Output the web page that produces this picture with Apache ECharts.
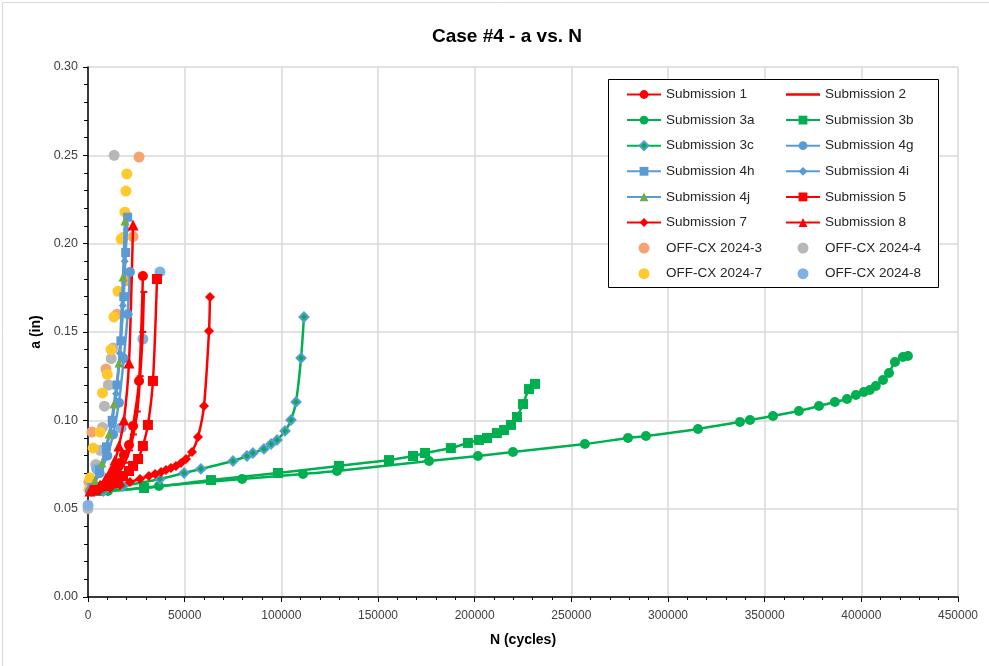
<!DOCTYPE html>
<html><head><meta charset="utf-8">
<script src="https://cdn.jsdelivr.net/npm/echarts@6/dist/echarts.min.js"></script>
<style>html,body{margin:0;padding:0;background:#fff}#c{width:989px;height:666px}</style>
</head><body><div id="c"></div>
<script>
// ---- data (N in cycles, a in inches) ----
const xTicks = [0, 50000, 100000, 150000, 200000, 250000, 300000, 350000, 400000, 450000];
const yTicks = [0.00, 0.05, 0.10, 0.15, 0.20, 0.25, 0.30];

const s1N = [2100, 6200, 10300, 12400, 14500, 16600, 18600, 21200, 23300, 26400, 28400];
const s1A = [0.060, 0.0623, 0.0651, 0.0685, 0.0719, 0.0759, 0.0804, 0.0860, 0.0968, 0.1223, 0.1817];

const s2N = [2000, 8000, 12000, 16000, 19000, 21500, 23500, 25500, 27000, 28300, 28900];
const s2A = [0.060, 0.0635, 0.0665, 0.0705, 0.0760, 0.0830, 0.0920, 0.105, 0.125, 0.150, 0.1727];

const s3aN = [5000, 10300, 36700, 79700, 111200, 128800, 176400, 201700, 219800, 257000, 279300, 288600, 315500, 337200, 342400, 354300, 367700, 378100, 386300, 392600, 397200, 401300, 404400, 407500, 411200, 414300, 417400, 421500, 424100];
const s3aA = [0.0600, 0.0600, 0.0628, 0.0668, 0.0696, 0.0713, 0.0770, 0.0798, 0.0821, 0.0866, 0.0900, 0.0911, 0.0951, 0.0991, 0.1002, 0.1025, 0.1053, 0.1081, 0.1104, 0.1121, 0.1143, 0.1160, 0.1172, 0.1194, 0.1228, 0.1268, 0.1330, 0.1358, 0.1364];

const s3bN = [5000, 29000, 63600, 98300, 129800, 155700, 168100, 174300, 187700, 196500, 202200, 206400, 211500, 215200, 218800, 221900, 225000, 228100, 231200];
const s3bA = [0.0600, 0.0617, 0.0662, 0.0702, 0.0742, 0.0775, 0.0798, 0.0815, 0.0843, 0.0872, 0.0889, 0.0900, 0.0928, 0.0945, 0.0974, 0.1019, 0.1092, 0.1177, 0.1206];

const s3cN = [8000, 18100, 37200, 49700, 58400, 75000, 82200, 85300, 91000, 94700, 97800, 101900, 105000, 107600, 110200, 111700];
const s3cA = [0.0600, 0.0628, 0.0668, 0.0702, 0.0725, 0.0770, 0.0798, 0.0815, 0.0838, 0.0866, 0.0889, 0.0940, 0.1002, 0.1104, 0.1353, 0.1585];

const s4gN = [1000, 6000, 10000, 13000, 16000, 18500, 20500, 21700];
const s4gA = [0.060, 0.070, 0.080, 0.092, 0.110, 0.135, 0.160, 0.184];

const s4hN = [2000, 6000, 9500, 12500, 15000, 17000, 18500, 19500, 20500];
const s4hA = [0.062, 0.072, 0.085, 0.100, 0.120, 0.145, 0.170, 0.195, 0.215];

const s4iN = [1500, 5500, 9000, 12000, 14500, 16500, 18000, 19000, 20000];
const s4iA = [0.060, 0.070, 0.082, 0.097, 0.115, 0.138, 0.165, 0.190, 0.208];

const s4jN = [3600, 7200, 10900, 13400, 16000, 18100, 19100];
const s4jA = [0.066, 0.0759, 0.0923, 0.1092, 0.1325, 0.1811, 0.2128];

const s5N = [3600, 8800, 12900, 15500, 18100, 21200, 23300, 25900, 28400, 31000, 33600, 35700];
const s5A = [0.0606, 0.0628, 0.0645, 0.0662, 0.0685, 0.0713, 0.0742, 0.0781, 0.0855, 0.0974, 0.1223, 0.1800];

const s7N = [6200, 11400, 16600, 21700, 26900, 31500, 34700, 37800, 40300, 42900, 45500, 48100, 50700, 53800, 56900, 60000, 62600, 63100];
const s7A = [0.0606, 0.0617, 0.0634, 0.0651, 0.0668, 0.0685, 0.0696, 0.0708, 0.0719, 0.0730, 0.0742, 0.0759, 0.0781, 0.0821, 0.0906, 0.1081, 0.1506, 0.1698];

const s8N = [1000, 6200, 9300, 11900, 14000, 16000, 18600, 21200, 23300];
const s8A = [0.0600, 0.0634, 0.0674, 0.0719, 0.0775, 0.0855, 0.1002, 0.1325, 0.2106];

const off3N = [500, 2000, 9300, 15000, 19600, 23300, 26400];
const off3A = [0.065, 0.0934, 0.129, 0.160, 0.179, 0.204, 0.249];

const off4N = [0, 1500, 4000, 6500, 7500, 8500, 10500, 12000, 13000, 13500];
const off4A = [0.050, 0.062, 0.075, 0.083, 0.096, 0.108, 0.120, 0.135, 0.141, 0.250];

const off7N = [500, 1000, 2700, 6200, 7500, 10000, 11900, 13400, 15500, 17100, 18600, 19100, 19600, 20100];
const off7A = [0.0606, 0.0674, 0.0843, 0.0934, 0.1155, 0.126, 0.140, 0.1585, 0.173, 0.2026, 0.2038, 0.2178, 0.2298, 0.2395];

const off8N = [0, 2000, 4500, 17100, 28400, 37200];
const off8A = [0.052, 0.060, 0.0725, 0.0957, 0.146, 0.184];

// ---- build ----
const zip = (N, A) => N.map((n, i) => [n, A[i]]);
const RED = '#FF0000', GREEN = '#00B050', BLUE = '#5B9BD5';
function line(name, N, A, color, symbol, size, extra) {
  return Object.assign({
    name, type: 'line', data: zip(N, A), smooth: 0.25,
    symbol, symbolSize: size,
    lineStyle: { color, width: 2.5 },
    itemStyle: { color, borderWidth: 0 },
    emphasis: { disabled: true }
  }, extra || {});
}
function pts(name, N, A, color) {
  return { name, type: 'scatter', data: zip(N, A), symbol: 'circle', symbolSize: 11,
    itemStyle: { color, opacity: 1 }, emphasis: { disabled: true } };
}

const series = [
  line('Submission 1', s1N, s1A, RED, 'circle', 10),
  line('Submission 2', s2N, s2A, RED, 'rect', [7, 2]),
  line('Submission 3a', s3aN, s3aA, GREEN, 'circle', 10),
  line('Submission 3b', s3bN, s3bA, GREEN, 'rect', 10),
  line('Submission 3c', s3cN, s3cA, GREEN, 'diamond', 9, { itemStyle: { color: GREEN, borderColor: BLUE, borderWidth: 2 } }),
  line('Submission 4g', s4gN, s4gA, BLUE, 'circle', 10),
  line('Submission 4h', s4hN, s4hA, BLUE, 'rect', 9),
  line('Submission 4i', s4iN, s4iA, BLUE, 'diamond', 8),
  line('Submission 4j', s4jN, s4jA, BLUE, 'triangle', 9, { itemStyle: { color: '#70AD47', borderWidth: 0 } }),
  line('Submission 5', s5N, s5A, RED, 'rect', 10),
  line('Submission 7', s7N, s7A, RED, 'diamond', 10),
  line('Submission 8', s8N, s8A, RED, 'triangle', 11),
  pts('OFF-CX 2024-3', off3N, off3A, '#F4A46C'),
  pts('OFF-CX 2024-4', off4N, off4A, '#B7B7B7'),
  pts('OFF-CX 2024-7', off7N, off7A, '#FFC92E'),
  pts('OFF-CX 2024-8', off8N, off8A, '#7FB2E2')
];

const names = series.map(s => s.name);
const legendItem = n => n === 'Submission 2'
  ? { name: n, icon: 'path://M0,0 L34,0 L34,2.6 L0,2.6 Z', itemStyle: { color: RED } }
  : { name: n };
const col1 = names.filter((_, i) => i % 2 === 0).map(legendItem);
const col2 = names.filter((_, i) => i % 2 === 1).map(legendItem);
const FONT = 'Liberation Sans';
const legendText = { fontFamily: FONT, fontSize: 13.5, color: '#262626' };
const legendBase = { orient: 'vertical', top: 87.5, itemGap: 11.6, itemWidth: 34, itemHeight: 11,
  textStyle: legendText, selectedMode: false, padding: 0, z: 4 };

const chart = echarts.init(document.getElementById('c'), null, { renderer: 'canvas' });
chart.setOption({
  animation: false,
  backgroundColor: '#fff',
  title: { text: 'Case #4 - a vs. N', left: 427, top: 22,
    textStyle: { fontFamily: FONT, fontSize: 19, fontWeight: 'bold', color: '#000' } },
  grid: { left: 88, top: 67, right: 31, bottom: 69, containLabel: false },
  xAxis: {
    type: 'value', min: xTicks[0], max: xTicks[xTicks.length - 1], interval: 50000,
    name: 'N (cycles)', nameLocation: 'middle', nameGap: 36,
    nameTextStyle: { fontFamily: FONT, fontSize: 14, fontWeight: 'bold', color: '#000' },
    axisLine: { show: true, onZero: false, lineStyle: { color: '#000', width: 1.5 } },
    axisTick: { show: true, inside: false, length: 5, lineStyle: { color: '#000' } },
    minorTick: { show: true, splitNumber: 5, length: 3, lineStyle: { color: '#000' } },
    splitLine: { show: true, lineStyle: { color: '#D9D9D9', width: 1.5 } },
    axisLabel: { fontFamily: FONT, fontSize: 12, color: '#404040', margin: 13,
      formatter: v => String(v) }
  },
  yAxis: {
    type: 'value', min: yTicks[0], max: yTicks[yTicks.length - 1], interval: 0.05,
    name: 'a (in)', nameLocation: 'middle', nameGap: 44, nameRotate: 90,
    nameTextStyle: { fontFamily: FONT, fontSize: 14, fontWeight: 'bold', color: '#000' },
    axisLine: { show: true, onZero: false, lineStyle: { color: '#000', width: 1.5 } },
    axisTick: { show: true, inside: false, length: 5, lineStyle: { color: '#000' } },
    minorTick: { show: true, splitNumber: 5, length: 4, lineStyle: { color: '#000' } },
    splitLine: { show: true, lineStyle: { color: '#D9D9D9', width: 1.5 } },
    axisLabel: { fontFamily: FONT, fontSize: 12.5, color: '#404040', margin: 10,
      formatter: v => v.toFixed(2) }
  },
  legend: [
    Object.assign({}, legendBase, { left: 626, data: col1 }),
    Object.assign({}, legendBase, { left: 785, data: col2 })
  ],
  graphic: [
    { type: 'rect', left: 608, top: 79, shape: { width: 330, height: 208 },
      style: { fill: '#fff', stroke: '#000', lineWidth: 1 }, z: 3 },
    { type: 'rect', left: 0, top: 0, shape: { x: 0.5, y: 0.5, width: 988, height: 665 },
      style: { fill: 'none', stroke: '#D9D9D9', lineWidth: 1 }, silent: true }
  ],
  series
});
</script></body></html>
